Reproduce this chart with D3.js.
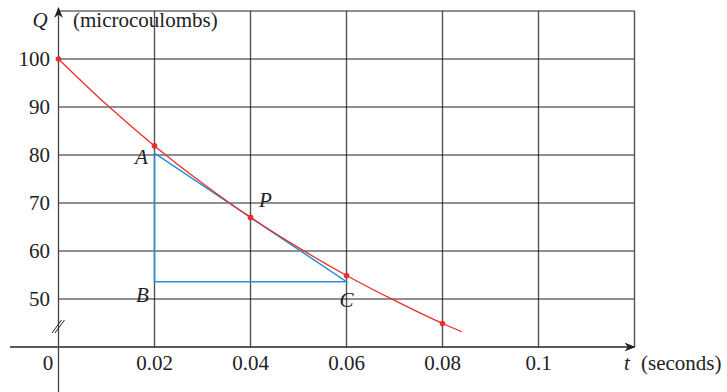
<!DOCTYPE html>
<html>
<head>
<meta charset="utf-8">
<script src="https://cdn.jsdelivr.net/npm/d3@7"></script>
<style>
  body { margin: 0; background: #fff; }
  svg { display: block; }
</style>
</head>
<body>
<script>
// charge readings
var tValues = [0, 0.01, 0.02, 0.03, 0.04, 0.05, 0.06, 0.07, 0.08, 0.084];
var qValues = [100, 90.5, 81.9, 74.1, 67.0, 60.7, 54.9, 49.7, 44.9, 43.2];
var dotT = [0, 0.02, 0.04, 0.06, 0.08];
var dotQ = [100, 81.9, 67.0, 54.9, 44.9];
var xTicks = [0.02, 0.04, 0.06, 0.08, 0.1];
var xTickLabels = ["0.02", "0.04", "0.06", "0.08", "0.1"];
var yTicks = [50, 60, 70, 80, 90, 100];
// tangent triangle A-B-C around P
var triT = [0.02, 0.02, 0.06];
var triQ = [80.4, 53.6, 53.6];

var width = 727, height = 392;
var serif = "'Liberation Serif', 'Times New Roman', Times, 'DejaVu Serif', serif";

var x = d3.scaleLinear().domain([0, 0.12]).range([58.5, 634.5]);
var y = d3.scaleLinear().domain([40, 110]).range([347, 11]);

var svg = d3.select("body").append("svg")
    .attr("width", width)
    .attr("height", height)
    .attr("font-family", serif)
    .attr("font-size", 21)
    .attr("fill", "#222");

var defs = svg.append("defs");
defs.append("marker")
    .attr("id", "arrow")
    .attr("viewBox", "0 0 10 10")
    .attr("refX", 9).attr("refY", 5)
    .attr("markerWidth", 11).attr("markerHeight", 11)
    .attr("markerUnits", "userSpaceOnUse")
    .attr("orient", "auto")
  .append("path")
    .attr("d", "M0,1 L10,5 L0,9 L3,5 Z")
    .attr("fill", "#222");

// grid
svg.append("g").selectAll("line")
    .data(xTicks.concat([0.12]))
    .enter().append("line")
    .attr("x1", function(d) { return x(d); })
    .attr("x2", function(d) { return x(d); })
    .attr("y1", y(110))
    .attr("y2", y(40))
    .attr("stroke", "#555")
    .attr("stroke-width", 1.4);

svg.append("g").selectAll("line")
    .data(yTicks.concat([110]))
    .enter().append("line")
    .attr("x1", x(0))
    .attr("x2", x(0.12))
    .attr("y1", function(d) { return y(d); })
    .attr("y2", function(d) { return y(d); })
    .attr("stroke", "#222")
    .attr("stroke-width", 1.2);

// axes
svg.append("line")
    .attr("x1", 10).attr("x2", x(0.12))
    .attr("y1", y(40)).attr("y2", y(40))
    .attr("stroke", "#222").attr("stroke-width", 1.3)
    .attr("marker-end", "url(#arrow)");

svg.append("line")
    .attr("x1", x(0)).attr("x2", x(0))
    .attr("y1", 392).attr("y2", 8)
    .attr("stroke", "#444").attr("stroke-width", 1.3)
    .attr("marker-end", "url(#arrow)");

// axis break
[0, 3].forEach(function(off) {
    svg.append("line")
        .attr("x1", x(0) - 6.5 + off).attr("y1", 333)
        .attr("x2", x(0) + 3 + off).attr("y2", 320)
        .attr("stroke", "#222").attr("stroke-width", 1);
});

// tick labels
svg.append("g").selectAll("text")
    .data(yTicks)
    .enter().append("text")
    .attr("x", 50)
    .attr("y", function(d) { return y(d); })
    .attr("dy", "0.35em")
    .attr("text-anchor", "end")
    .text(function(d) { return d; });

svg.append("g").selectAll("text")
    .data(xTicks)
    .enter().append("text")
    .attr("x", function(d) { return x(d); })
    .attr("y", 370)
    .attr("text-anchor", "middle")
    .text(function(d, i) { return xTickLabels[i]; });

svg.append("text").attr("x", 48).attr("y", 370).attr("text-anchor", "middle").text("0");
svg.append("text").attr("font-style", "italic").attr("x", 40).attr("y", 27).attr("text-anchor", "middle").text("Q");
svg.append("text").attr("x", 73).attr("y", 27).text("(microcoulombs)");
svg.append("text").attr("font-style", "italic").attr("x", 624).attr("y", 370).text("t");
svg.append("text").attr("x", 641).attr("y", 370).text("(seconds)");

// tangent triangle
svg.append("path")
    .datum(d3.range(triT.length))
    .attr("d", function(idx) {
        return d3.line()
            .x(function(i) { return x(triT[i]); })
            .y(function(i) { return y(triQ[i]); })(idx) + "Z";
    })
    .attr("fill", "none")
    .attr("stroke", "#2b8fd6")
    .attr("stroke-width", 1.5);

// curve
svg.append("path")
    .datum(d3.range(tValues.length))
    .attr("d", d3.line()
        .x(function(i) { return x(tValues[i]); })
        .y(function(i) { return y(qValues[i]); })
        .curve(d3.curveMonotoneX))
    .attr("fill", "none")
    .attr("stroke", "#e8302a")
    .attr("stroke-width", 1.3);

svg.append("g").selectAll("circle")
    .data(d3.range(dotT.length))
    .enter().append("circle")
    .attr("cx", function(i) { return x(dotT[i]); })
    .attr("cy", function(i) { return y(dotQ[i]); })
    .attr("r", 2.8)
    .attr("fill", "#e8302a");

// point labels
var pts = [
    {name: "A", t: 0.02, q: 80, dx: -13, dy: 9},
    {name: "B", t: 0.02, q: 50, dx: -12, dy: 3},
    {name: "C", t: 0.06, q: 50, dx: 0, dy: 8},
    {name: "P", t: 0.04, q: 70, dx: 15, dy: 4}
];
svg.append("g").selectAll("text")
    .data(pts)
    .enter().append("text")
    .attr("font-style", "italic")
    .attr("x", function(d) { return x(d.t) + d.dx; })
    .attr("y", function(d) { return y(d.q) + d.dy; })
    .attr("text-anchor", "middle")
    .text(function(d) { return d.name; });
</script>
</body>
</html>
